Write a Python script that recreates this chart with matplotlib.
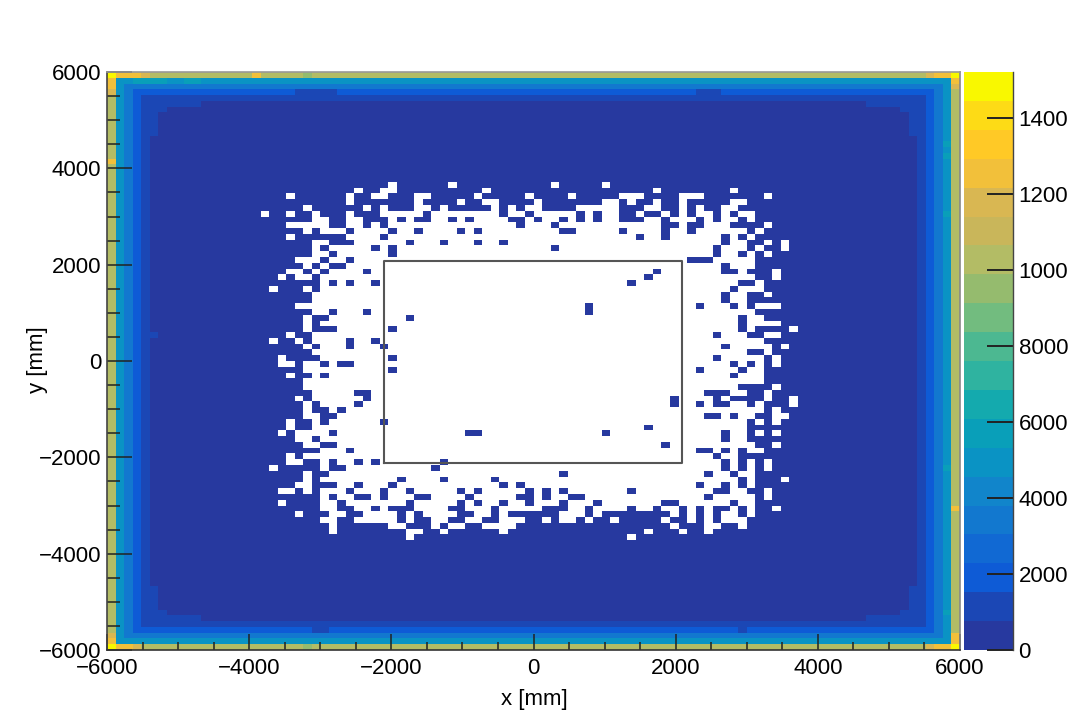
import numpy as np
import matplotlib
matplotlib.use("Agg")
import matplotlib.pyplot as plt
from matplotlib.colors import ListedColormap, BoundaryNorm

plt.rcParams['font.family'] = ['Liberation Sans', 'DejaVu Sans']
plt.rcParams['axes.unicode_minus'] = True

N_BINS = 100
X_RANGE = [-6000, 6000]
Y_RANGE = [-6000, 6000]
Z_MAX = 15200
N_BANDS = 20
BAND_COLOURS = ['#27399f', '#1b47b5', '#0e5bd6', '#1169d3', '#1278cf', '#1185cb', '#0a93c4',
                '#099fb9', '#14aaae', '#2fb3a0', '#4cb891', '#72bc7f', '#95bb6e', '#b3bc65',
                '#c9b65a', '#d9b752', '#f2c03a', '#ffc926', '#fddb16', '#f9f800']

# counts by distance (in bins) from the nearest histogram edge
EDGE_PROFILE = [10300, 4700, 3100, 2100, 1200]
INNER_VALUE = 350
STAIR_VALUE = 1200
# extent of the corner staircase: distance from side -> depth along the other side
STAIR_DEPTH = {5: 10, 6: 7, 7: 6, 8: 6, 9: 6, 10: 6}
# individual bins differing from the smooth border: (row from top, col, value)
SPECIAL_BINS = [(0, 0, 15000), (99, 0, 15000), (0, 99, 15000), (99, 99, 15000),
                (0, 1, 12300), (0, 2, 12300), (0, 3, 12300), (0, 4, 12000), (0, 17, 12300),
                (1, 0, 12300), (2, 0, 12300), (3, 0, 11500), (15, 0, 12300),
                (99, 1, 12300), (99, 2, 12300), (99, 3, 12000), (98, 0, 12300), (97, 0, 11500),
                (99, 98, 12300), (99, 97, 12300), (98, 99, 12300), (97, 99, 12300),
                (99, 96, 12000), (0, 98, 12300), (0, 97, 12300), (0, 96, 12000),
                (1, 99, 12300), (2, 99, 11500), (0, 23, 9500), (99, 23, 9500), (75, 99, 12300),
                (45, 5, 800), (1, 3, 5400), (1, 4, 5400), (1, 5, 5400), (1, 6, 5400),
                (1, 9, 5800), (1, 10, 5800), (12, 98, 5400), (14, 98, 5400), (24, 98, 5400),
                (68, 98, 5400), (93, 98, 5400),
                (3, 22, 1300), (3, 23, 1300), (3, 24, 1300), (3, 25, 1300), (3, 26, 1300),
                (3, 69, 1300), (3, 70, 1300), (3, 71, 1300),
                (96, 24, 1300), (96, 25, 1300), (96, 74, 1300)]

# empty (zero-count) bins of each row, as column runs; row 0 is the top row
EMPTY_RUNS = {
    19: "33 40 52 58",
    20: "29 32-33 44 64 73",
    21: "21 28 31-32 36-37 43 49 54 60-62 67-69 77",
    22: "28 36 41 44-45 50 58-59 61 64 67 73-74",
    23: "23 30 32 36-37 39 45 47 49-50 55-59 63-64 67 69 72-73",
    24: "18 21 24 28 32-36 38-45 47-48 50-54 56 58-59 62 65 67 69-70 72 74-75",
    25: "24-25 28-29 33 35 38-39 41 43-46 49 51-52 54 56 58-59 63-64 66-68 70 72-73 75",
    26: "21-25 28-29 31 33-47 49-51 53-64 67 70-72 77",
    27: "23 25-27 29-32 34-35 37-40 42 44-52 55-59 61-64 66-67 69-74 76",
    28: "21 28-31 33-61 63-64 66-71 73 75",
    29: "24-25 29-34 36-38 40-42 44-45 47-71 73-74 77 79",
    30: "24 26-30 32 34-51 53-70 72-74 76 79",
    31: "24-25 27-32 34-70 72-73 75 77",
    32: "22-24 26-27 29-67 71-75",
    33: "23 25 28-71 73-75",
    34: "21-22 24 26-29 31-63 65-71 74 78",
    35: "20 22-23 25-62 64-75 78",
    36: "25 27 29-30 32-60 62-73 76",
    37: "19 23 25-72 74-76",
    38: "24-71 73-74 77",
    39: "24-71 73-74",
    40: "22-55 57-68 70-72 74 76-78",
    41: "24-25 27-29 31-55 57-75",
    42: "23 26-34 36-73 75-76",
    43: "23 25-73 75-78",
    44: "23 27-32 34-73 75 80",
    45: "21 24-70 72-74 77-78",
    46: "19 22 24-27 29-30 32-76",
    47: "23 25-27 29-31 33-71 73-77 79",
    48: "24-74 77",
    49: "20 25-32 34-70 72-76 78",
    50: "20-21 23-24 26 29-72 74 76 78",
    51: "23-32 34-68 70-73 75-76",
    52: "21 24 26-72 74-76",
    53: "23-76",
    54: "23-73 78",
    55: "24-28 31-69 73-74 77",
    56: "22 24-29 31-65 67-70 72 77 80",
    57: "23 25-28 30-65 67-68 70 73-74 76 80",
    58: "23 26 28-76 78",
    59: "23-24 27-69 72 74-75 78-79",
    60: "21 24 26-31 33-74 76 78",
    61: "21 24-62 64-74",
    62: "20 22-25 27-41 44-57 59-71 73-74 76 78",
    63: "22-23 25-71 73-74",
    64: "23-24 27-64 66-75 78",
    65: "25-27 29-68 71 73 75-76",
    66: "21 23-70 72-73",
    67: "21-22 25 27-28 30 32-38 40-71 73 75 77",
    68: "19 25 28-37 39-71 73 75 77",
    69: "23 26-52 54-69 71-72 74-75",
    70: "23 25-33 35-38 40-44 46-73 75 79",
    71: "22-23 27-28 30-32 34-45 47 49-68 70-71 73 75",
    72: "20-21 23 25-27 29-31 33-34 36-40 42 44-48 50 52 54-60 62-70 73-74 77",
    73: "25 27-28 31 33-35 38-41 43-47 50 52-53 56-69 71-75 77",
    74: "20 25-26 28-34 36-40 42 44-45 47-48 50-52 54-56 58-64 67-72 74-75",
    75: "25-26 29-30 32 36-39 42-44 46-50 54-55 57-60 62-63 65-66 68 70 73 75 78",
    76: "22 26-27 30-33 35 37-40 43-44 46 53-55 57 66 68 70 72-73 75",
    77: "25-26 29-33 35 38-39 42-43 46-48 51 53-54 56 59 65 68 70 72-74",
    78: "26 33-34 38 40-41 44-47 66 70-71 74",
    79: "26 35-36 39 46 63 67 70",
    80: "35 61",
}

BOX_X = [-2100, 2090]
BOX_Y = [-2118, 2076]

X_TICKS = [-6000, -4000, -2000, 0, 2000, 4000, 6000]
Y_TICKS = [-6000, -4000, -2000, 0, 2000, 4000, 6000]
Z_TICKS = [0, 2000, 4000, 6000, 8000, 10000, 12000, 14000]
X_LABEL = "x [mm]"
Y_LABEL = "y [mm]"

# ---- build the histogram ----
z = np.full((N_BINS, N_BINS), float(INNER_VALUE))
for r in range(N_BINS):
    for c in range(N_BINS):
        dr, dc = min(r, N_BINS - 1 - r), min(c, N_BINS - 1 - c)
        d = min(dr, dc)
        if d < len(EDGE_PROFILE):
            z[r, c] = EDGE_PROFILE[d]
        elif dc in STAIR_DEPTH and dr < STAIR_DEPTH[dc]:
            z[r, c] = STAIR_VALUE
        elif dr in STAIR_DEPTH and dc < STAIR_DEPTH[dr]:
            z[r, c] = STAIR_VALUE
for r, c, v in SPECIAL_BINS:
    z[r, c] = v
for r, runs in EMPTY_RUNS.items():
    for run in runs.split():
        a, _, b = run.partition('-')
        z[r, int(a):int(b or a) + 1] = np.nan

xedges = np.linspace(X_RANGE[0], X_RANGE[1], N_BINS + 1)
yedges = np.linspace(Y_RANGE[1], Y_RANGE[0], N_BINS + 1)
levels = np.linspace(0, Z_MAX, N_BANDS + 1)
cmap = ListedColormap(BAND_COLOURS)
cmap.set_bad('white')
norm = BoundaryNorm(levels, cmap.N)

# ---- figure ----
W, H = 1068, 724
fig = plt.figure(figsize=(W / 100, H / 100), dpi=100)
def box(l, t, r, b):
    return [l / W, 1 - b / H, (r - l) / W, (b - t) / H]
ax = fig.add_axes(box(107, 72, 960, 650))
mesh = ax.pcolormesh(xedges, yedges, np.ma.masked_invalid(z), cmap=cmap, norm=norm,
                     antialiased=False, linewidth=0)
ax.set_xlim(X_RANGE)
ax.set_ylim(Y_RANGE)

ax.plot([BOX_X[0], BOX_X[1], BOX_X[1], BOX_X[0], BOX_X[0]],
        [BOX_Y[0], BOX_Y[0], BOX_Y[1], BOX_Y[1], BOX_Y[0]], color='#555555', lw=1.5, zorder=5)

FS = 16
ax.set_xticks(X_TICKS)
ax.set_yticks(Y_TICKS)
ax.set_xticks(np.arange(X_RANGE[0], X_RANGE[1] + 1, 500), minor=True)
ax.set_yticks(np.arange(Y_RANGE[0], Y_RANGE[1] + 1, 500), minor=True)
ax.tick_params(axis='x', which='major', direction='in', length=11.5, width=1.1, color='#222222',
               labelsize=FS, pad=6)
ax.tick_params(axis='x', which='minor', direction='in', length=5.8, width=1.1, color='#222222')
ax.tick_params(axis='y', which='major', direction='in', length=18, width=1.1, color='#222222',
               labelsize=FS, pad=4)
ax.tick_params(axis='y', which='minor', direction='in', length=9.4, width=1.1, color='#222222')
for s, col in (('left', '#444444'), ('bottom', '#333333'), ('top', '#999999'), ('right', '#888888')):
    ax.spines[s].set_color(col)
    ax.spines[s].set_linewidth(1.2)
    ax.spines[s].set_zorder(6)
ax.set_axisbelow(False)

fig.text(534 / W, 1 - 700 / H, X_LABEL, ha='center', va='center', fontsize=FS)
fig.text(37 / W, 1 - 360 / H, Y_LABEL, ha='center', va='center', rotation=90, fontsize=FS)

cax = fig.add_axes(box(964, 72, 1013, 650))
cb = fig.colorbar(mesh, cax=cax, spacing='proportional', ticks=Z_TICKS, drawedges=False)
cb.ax.minorticks_off()
cb.ax.yaxis.set_ticks_position('right')
cb.ax.tick_params(axis='y', which='major', direction='in', length=18.7, width=1.4,
                  color='#222222', labelsize=FS, pad=4)
cb.outline.set_visible(False)
cax.plot([1, 1], [0, 1], transform=cax.transAxes, color='#444444', lw=1.0, clip_on=False)

fig.savefig('out.png', dpi=100, facecolor='white')
